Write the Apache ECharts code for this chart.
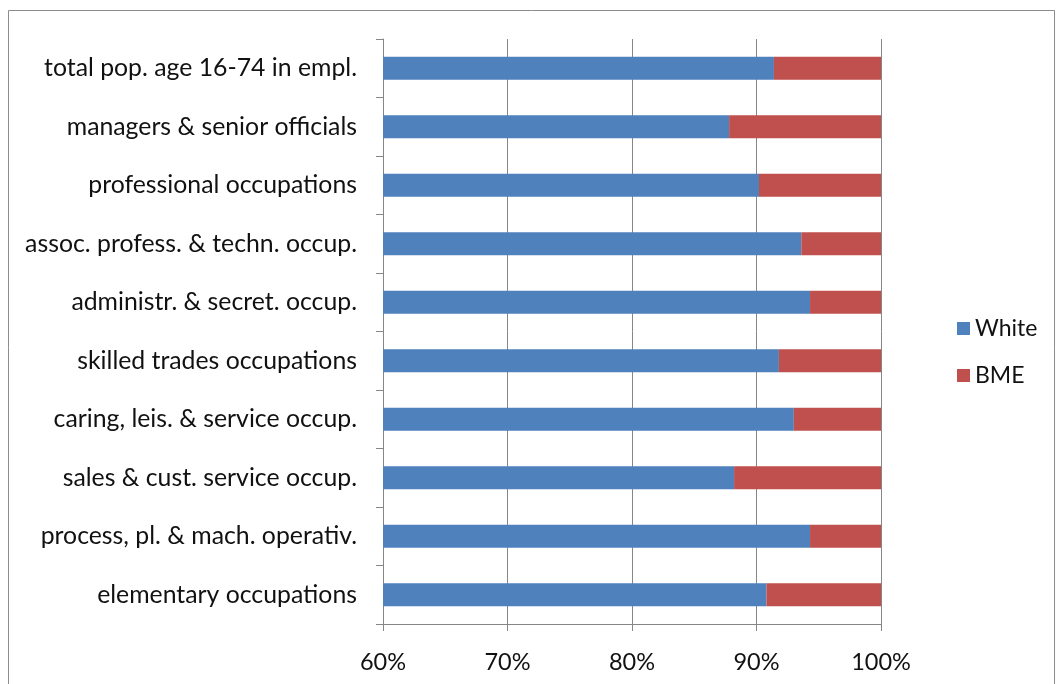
<!DOCTYPE html>
<html>
<head>
<meta charset="utf-8">
<script src="https://cdn.jsdelivr.net/npm/echarts@6/dist/echarts.min.js"></script>
<style>
  html, body { margin: 0; padding: 0; background: #fff; }
  #chart { width: 1060px; height: 684px; }
</style>
</head>
<body>
<div id="chart"></div>
<script>
// Occupational groups (top to bottom)
const categories = [
  'total pop. age 16-74 in empl.',
  'managers & senior officials',
  'professional occupations',
  'assoc. profess. & techn. occup.',
  'administr. & secret. occup.',
  'skilled trades occupations',
  'caring, leis. & service occup.',
  'sales & cust. service occup.',
  'process, pl. & mach. operativ.',
  'elementary occupations'
];
// Share of each group, in percent
const white = [91.4, 87.8, 90.2, 93.6, 94.3, 91.8, 93.0, 88.2, 94.3, 90.8];
const bme   = [8.6, 12.2, 9.8, 6.4, 5.7, 8.2, 7.0, 11.8, 5.7, 9.2];
const seriesNames = ['White', 'BME'];

const FONT = 'Lato';
const chart = echarts.init(document.getElementById('chart'));

chart.setOption({
  backgroundColor: '#ffffff',
  animation: false,
  textStyle: { fontFamily: FONT },
  graphic: [{
    type: 'rect',
    shape: { x: 8.5, y: 10.5, width: 1046, height: 690 },
    style: { fill: 'none', stroke: '#8c8c8c', lineWidth: 1 },
    silent: true
  }],
  grid: { left: 383, right: 179, top: 39, bottom: 60 },
  legend: {
    orient: 'vertical',
    left: 952,
    top: 312,
    itemWidth: 13,
    itemHeight: 13,
    itemGap: 24,
    icon: 'rect',
    textStyle: { fontFamily: FONT, fontSize: 23, color: '#111' },
    data: seriesNames
  },
  xAxis: {
    type: 'value',
    min: 60,
    max: 100,
    interval: 10,
    axisLine: { show: true, lineStyle: { color: '#868686' } },
    axisTick: { show: true, length: 7, lineStyle: { color: '#868686' } },
    splitLine: { show: true, lineStyle: { color: '#868686', width: 1 } },
    axisLabel: {
      formatter: v => v + '%',
      fontFamily: FONT, fontSize: 23.5, color: '#111', margin: 26
    }
  },
  yAxis: {
    type: 'category',
    inverse: true,
    data: categories,
    axisLine: { show: true, lineStyle: { color: '#868686' } },
    axisTick: { show: true, length: 7, lineStyle: { color: '#868686' } },
    axisLabel: { fontFamily: FONT, fontSize: 24.8, color: '#111', margin: 26 }
  },
  series: [
    {
      name: seriesNames[0], type: 'bar', stack: 'share', data: white,
      barWidth: 23, itemStyle: { color: '#4f81bd' }
    },
    {
      name: seriesNames[1], type: 'bar', stack: 'share', data: bme,
      barWidth: 23, itemStyle: { color: '#c0504d' }
    }
  ]
});
</script>
</body>
</html>
